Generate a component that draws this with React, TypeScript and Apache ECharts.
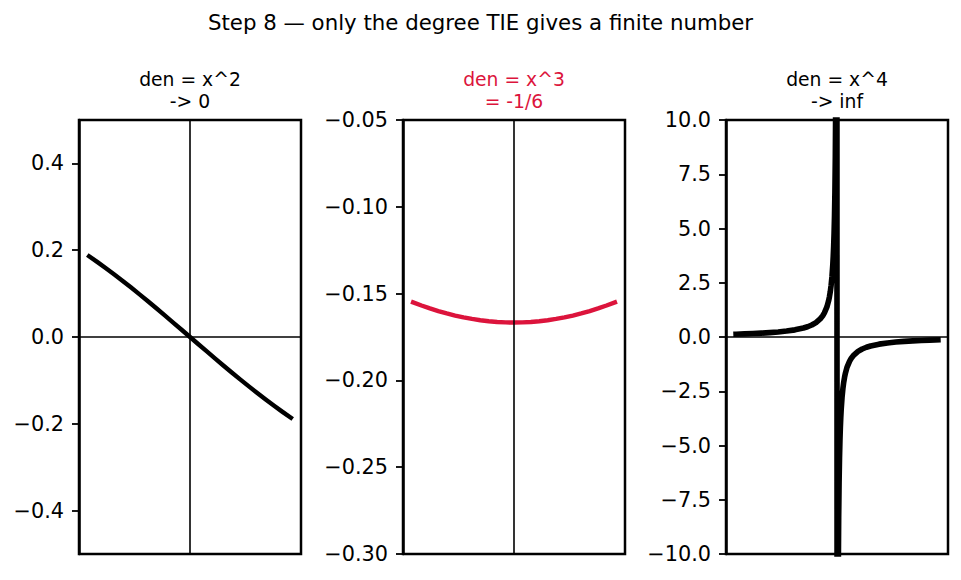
import React, { useEffect, useRef } from "react";
import * as echarts from "echarts";

const mainTitle = "Step 8 — only the degree TIE gives a finite number";
const panelTitles = ["den = x^2\n-> 0", "den = x^3\n= -1/6", "den = x^4\n-> inf"];
const panelColors = ["#000000", "#DC143C", "#000000"];

const x12 = [-1.2, -1.1, -1.0, -0.9, -0.8, -0.7, -0.6, -0.5, -0.4, -0.3, -0.2, -0.1, 0, 0.1, 0.2, 0.3, 0.4, 0.5, 0.6, 0.7, 0.8, 0.9, 1.0, 1.1, 1.2];
const y1 = [0.186084, 0.172556, 0.158529, 0.144041, 0.129131, 0.113842, 0.098215, 0.082298, 0.066136, 0.049776, 0.033267, 0.016658, 0, -0.016658, -0.033267, -0.049776, -0.066136, -0.082298, -0.098215, -0.113842, -0.129131, -0.144041, -0.158529, -0.172556, -0.186084];
const y2 = [-0.15507, -0.156869, -0.158529, -0.160045, -0.161414, -0.16263, -0.163692, -0.164596, -0.165339, -0.165918, -0.166334, -0.166583, -0.166667, -0.166583, -0.166334, -0.165918, -0.165339, -0.164596, -0.163692, -0.16263, -0.161414, -0.160045, -0.158529, -0.156869, -0.15507];

const x3 = [-1.2, -1.1, -1.0, -0.9, -0.8, -0.7, -0.6, -0.5, -0.4, -0.35, -0.3, -0.25, -0.2, -0.17, -0.15, -0.12, -0.1, -0.09, -0.08, -0.07, -0.06, -0.05, -0.045, -0.04, -0.035, -0.03, -0.025, -0.02, -0.015, -0.012, -0.01, -0.006, -0.003,
  0.003, 0.006, 0.01, 0.012, 0.015, 0.02, 0.025, 0.03, 0.035, 0.04, 0.045, 0.05, 0.06, 0.07, 0.08, 0.09, 0.1, 0.12, 0.15, 0.17, 0.2, 0.25, 0.3, 0.35, 0.4, 0.5, 0.6, 0.7, 0.8, 0.9, 1.0, 1.1, 1.2];
const y3 = [0.12923, 0.14261, 0.158529, 0.17783, 0.20177, 0.23233, 0.27282, 0.32919, 0.41335, 0.47328, 0.55306, 0.66459, 0.83167, 0.97898, 1.10986, 1.38789, 1.66583, 1.8511, 2.08267, 2.38037, 2.77728, 3.33292, 3.70333, 4.16633, 4.76161, 5.55531, 6.66646, 8.33317, 11.111, 13.8888, 16.6666, 27.7778, 55.5555,
  -55.5555, -27.7778, -16.6666, -13.8888, -11.111, -8.33317, -6.66646, -5.55531, -4.76161, -4.16633, -3.70333, -3.33292, -2.77728, -2.38037, -2.08267, -1.8511, -1.66583, -1.38789, -1.10986, -0.97898, -0.83167, -0.66459, -0.55306, -0.47328, -0.41335, -0.32919, -0.27282, -0.23233, -0.20177, -0.17783, -0.158529, -0.14261, -0.12923];

const yTicks1 = [-0.4, -0.2, 0, 0.2, 0.4];
const yTicks2 = [-0.3, -0.25, -0.2, -0.15, -0.1, -0.05];
const yTicks3 = [-10, -7.5, -5, -2.5, 0, 2.5, 5, 7.5, 10];
const yRanges = [[-0.5, 0.5], [-0.3, -0.05], [-10, 10]];
const yDecimals = [1, 2, 1];
const xRange = [-1.32, 1.32];

const FONT = "DejaVu Sans";

export default function App() {
  const ref = useRef<HTMLDivElement>(null);
  useEffect(() => {
    if (!ref.current) return;
    const chart = echarts.init(ref.current, null, { renderer: "svg" });
    const lefts = [79, 403, 726];
    const W = 222;
    const top = 120;
    const H = 434;
    const ticks = [yTicks1, yTicks2, yTicks3];
    const xs = [x12, x12, x3];
    const ys = [y1, y2, y3];
    const widths = [4.4, 4.4, 5.6];

    const grids = lefts.map((l) => ({
      left: l, top, width: W, height: H, show: true,
      borderColor: "#000", borderWidth: 2.5, backgroundColor: "#fff",
    }));
    const xAxes = lefts.map((_, i) => ({
      type: "value", gridIndex: i, min: xRange[0], max: xRange[1],
      axisLine: { show: false, onZero: false }, axisTick: { show: false }, axisLabel: { show: false }, splitLine: { show: false },
    }));
    const yAxes = lefts.map((_, i) => ({
      type: "value", gridIndex: i, min: yRanges[i][0], max: yRanges[i][1], position: "left",
      axisLine: { show: true, onZero: false, lineStyle: { color: "#000", width: 2.5 } },
      axisTick: { show: true, length: 7, customValues: ticks[i], lineStyle: { color: "#000", width: 1.8 } },
      axisLabel: {
        show: true, customValues: ticks[i], margin: 15, color: "#000", fontFamily: FONT, fontSize: 20.8,
        formatter: (v: number) => v.toFixed(yDecimals[i]).replace("-", "\u2212"),
      },
      splitLine: { show: false },
    }));
    const series = lefts.map((_, i) => ({
      type: "line", xAxisIndex: i, yAxisIndex: i,
      data: xs[i].map((x, k) => [x, ys[i][k]]),
      showSymbol: false, symbol: "none", clip: true, silent: true,
      lineStyle: { color: panelColors[i], width: widths[i], cap: "square", join: "round" },
      markLine: {
        silent: true, symbol: ["none", "none"], label: { show: false },
        lineStyle: { color: "#000", width: 1.6, type: "solid" },
        data: [{ xAxis: 0 }, { yAxis: 0 }],
        animation: false,
      },
      z: 3,
    }));
    const titles: any[] = [
      {
        text: mainTitle, left: 480.5, top: 10, padding: 0, textAlign: "center",
        textStyle: { fontFamily: FONT, fontSize: 21.3, fontWeight: "normal", color: "#000", lineHeight: 25 },
      },
      ...lefts.map((l, i) => ({
        text: panelTitles[i], left: l + W / 2, top: 68, padding: 0, textAlign: "center",
        textStyle: { fontFamily: FONT, fontSize: 18.75, fontWeight: "normal", color: panelColors[i], lineHeight: 22 },
      })),
    ];
    chart.setOption({
      animation: false,
      backgroundColor: "#fff",
      title: titles,
      grid: grids,
      xAxis: xAxes,
      yAxis: yAxes,
      series,
    });
    return () => chart.dispose();
  }, []);
  return <div ref={ref} style={{ position: "fixed", left: 0, top: 0, width: 961, height: 580 }} />;
}
